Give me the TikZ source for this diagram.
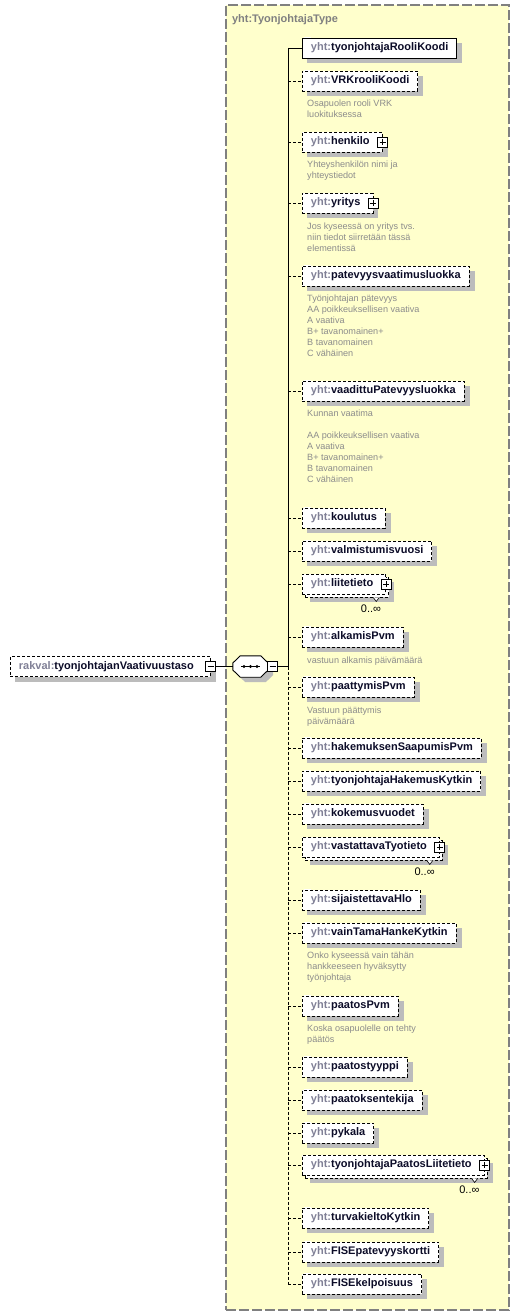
\documentclass[tikz,border=0pt]{standalone}
\usepackage{fontspec}
\setmainfont{Liberation Sans}
\usetikzlibrary{positioning,shadows}
\definecolor{typeyellow}{RGB}{255,255,204}
\definecolor{typeborder}{RGB}{128,128,128}
\definecolor{nsgrey}{RGB}{128,128,150}
\definecolor{namenavy}{RGB}{12,12,40}
\definecolor{docgrey}{RGB}{140,140,140}
\definecolor{boxshade}{RGB}{188,188,188}
\newcommand{\yht}[1]{\textcolor{nsgrey}{yht:}#1}
\newcommand{\octpath}{([shift={(0pt,3.5pt)}]seq.west) -- ([shift={(7.5pt,0pt)}]seq.north west) -- ([shift={(-7.5pt,0pt)}]seq.north east)
  -- ([shift={(0pt,3.5pt)}]seq.east) -- ([shift={(0pt,-3.5pt)}]seq.east) -- ([shift={(-7.5pt,0pt)}]seq.south east)
  -- ([shift={(7.5pt,0pt)}]seq.south west) -- ([shift={(0pt,-3.5pt)}]seq.west) -- cycle}
\pgfdeclarelayer{typelayer}
\pgfdeclarelayer{shadowlayer}
\pgfsetlayers{typelayer,shadowlayer,main}

\begin{document}
\begin{tikzpicture}[x=1pt, y=-1pt,
    element/.style={rectangle, draw, fill=white, anchor=west, minimum height=20pt, inner xsep=8.5pt, inner ysep=0pt,
      line width=0.9pt, text=namenavy, font=\fontsize{11}{13}\selectfont\bfseries},
    multi/.style={general shadow={shadow xshift=3pt, shadow yshift=-3pt, draw, fill=white, line width=0.9pt, dash pattern=on 3pt off 2pt}},
    optional/.style={dash pattern=on 3pt off 2pt},
    complex/.style={execute at end node={\hspace{4pt}}},
    simple/.style={append after command={\pgfextra{
      \fill[white] ([shift={(1.5pt,0.6pt)}]\tikzlastnode.north west) rectangle ([shift={(9pt,-5pt)}]\tikzlastnode.north west);
      \draw[solid, line width=0.6pt] ([shift={(2pt,-0.6pt)}]\tikzlastnode.north west) -- ++(6pt,0pt)
        ([shift={(2pt,-2.3pt)}]\tikzlastnode.north west) -- ++(6pt,0pt)
        ([shift={(2pt,-4pt)}]\tikzlastnode.north west) -- ++(6pt,0pt);}}},
    plusbox/.style={rectangle, draw, solid, fill=white, line width=0.8pt, minimum size=10pt, inner sep=0pt,
      path picture={\draw[line width=0.8pt] ([xshift=2pt]path picture bounding box.west) -- ([xshift=-2pt]path picture bounding box.east)
        ([yshift=-2pt]path picture bounding box.north) -- ([yshift=2pt]path picture bounding box.south);}},
    minusbox/.style={rectangle, draw, solid, fill=white, line width=0.8pt, minimum size=10pt, inner sep=0pt,
      path picture={\draw[line width=0.8pt] ([xshift=2pt]path picture bounding box.west) -- ([xshift=-2pt]path picture bounding box.east);}},
    doc/.style={font=\fontsize{9.1}{11}\selectfont, text=docgrey, align=left, inner sep=0pt},
    card/.style={font=\fontsize{11}{13}\selectfont, inner sep=0pt},
    link/.style={line width=0.9pt}]

  \useasboundingbox (0,0) rectangle (520,1316);

  % type container
  \begin{pgfonlayer}{typelayer}
    \node[rectangle, draw=typeborder, fill=typeyellow, line width=1.3pt, dash pattern=on 10pt off 3pt,
      minimum width=283pt, minimum height=1305pt, inner sep=0pt] (type) at (367.5,657.5) {};
  \end{pgfonlayer}
  \node[font=\fontsize{11}{13}\selectfont\bfseries, text=typeborder, inner sep=0pt, below right=9.5pt and 6.5pt of type.north west] (typename) {yht:TyonjohtajaType};

  % root element and sequence
  \node[element, optional] (root) at (10,666.5) {\textcolor{nsgrey}{rakval:}tyonjohtajanVaativuustaso\hspace*{8pt}};
  \node[minusbox] (rootminus) at (root.east) {};
  \node[minimum width=35pt, minimum height=21pt, inner sep=0pt] (seq) at (250.5,666.5) {};
  \draw[line width=0.9pt, fill=white] \octpath;
  \draw[line width=1pt] ([xshift=-9.5pt]seq.center) -- ([xshift=9.5pt]seq.center);
  \fill ([xshift=-6.5pt]seq.center) circle (1.7pt);
  \fill (seq.center) circle (1.7pt);
  \fill ([xshift=6.5pt]seq.center) circle (1.7pt);
  \node[minusbox] (seqminus) at ([xshift=4.5pt]seq.east) {};
  \coordinate (junc) at (288,666.5);

  % child elements
  \node[element, simple] (rooli) at (302,48) {\yht{tyonjohtajaRooliKoodi}};
  \node[element, optional, simple] (vrk) at (302,81) {\yht{VRKrooliKoodi}};
  \node[doc, below right=8pt and 5pt of vrk.south west] (vrkdoc) {Osapuolen rooli VRK\\luokituksessa};
  \node[element, optional, complex] (henkilo) at (302,142) {\yht{henkilo}};
  \node[plusbox] (henkiloplus) at (henkilo.east) {};
  \node[doc, below right=8pt and 5pt of henkilo.south west] (henkilodoc) {Yhteyshenkilön nimi ja\\yhteystiedot};
  \node[element, optional, complex] (yritys) at (302,203) {\yht{yritys}};
  \node[plusbox] (yritysplus) at (yritys.east) {};
  \node[doc, below right=9pt and 5pt of yritys.south west] (yritysdoc) {Jos kyseessä on yritys tvs.\\niin tiedot siirretään tässä\\elementissä};
  \node[element, optional, simple] (patevyys) at (302,276) {\yht{patevyysvaatimusluokka}};
  \node[doc, below right=8pt and 5pt of patevyys.south west] (patevyysdoc) {Työnjohtajan pätevyys\\AA poikkeuksellisen vaativa\\A vaativa\\B+ tavanomainen+\\B tavanomainen\\C vähäinen};
  \node[element, optional, simple] (vaadittu) at (302,391) {\yht{vaadittuPatevyysluokka}};
  \node[doc, below right=8pt and 5pt of vaadittu.south west] (vaadittudoc) {Kunnan vaatima\\[11pt]AA poikkeuksellisen vaativa\\A vaativa\\B+ tavanomainen+\\B tavanomainen\\C vähäinen};
  \node[element, optional, simple] (koulutus) at (302,518) {\yht{koulutus}};
  \node[element, optional, simple] (valmistumis) at (302,551) {\yht{valmistumisvuosi}};
  \node[element, optional, multi, complex] (liite) at (302,584) {\yht{liitetieto}};
  \node[plusbox] (liiteplus) at (liite.east) {};
  \draw[line width=0.6pt, fill=white] ([shift={(-13pt,-3pt)}]liite.south east) -- ([shift={(-10pt,-7pt)}]liite.south east) -- ([shift={(-7pt,-3pt)}]liite.south east);
  \node[card, below left=10.5pt and 5pt of liite.south east] (liitecard) {0..∞};
  \node[element, optional, simple] (alkamis) at (302,637) {\yht{alkamisPvm}};
  \node[doc, below right=9pt and 5pt of alkamis.south west] (alkamisdoc) {vastuun alkamis päivämäärä};
  \node[element, optional, simple] (paattymis) at (302,687) {\yht{paattymisPvm}};
  \node[doc, below right=9pt and 5pt of paattymis.south west] (paattymisdoc) {Vastuun päättymis\\päivämäärä};
  \node[element, optional, simple] (saapumis) at (302,748) {\yht{hakemuksenSaapumisPvm}};
  \node[element, optional, simple] (hakemuskytkin) at (302,781) {\yht{tyonjohtajaHakemusKytkin}};
  \node[element, optional, simple] (kokemus) at (302,814) {\yht{kokemusvuodet}};
  \node[element, optional, multi, complex] (vastattava) at (302,847) {\yht{vastattavaTyotieto}};
  \node[plusbox] (vastattavaplus) at (vastattava.east) {};
  \draw[line width=0.6pt, fill=white] ([shift={(-13pt,-3pt)}]vastattava.south east) -- ([shift={(-10pt,-7pt)}]vastattava.south east) -- ([shift={(-7pt,-3pt)}]vastattava.south east);
  \node[card, below left=10.5pt and 5pt of vastattava.south east] (vastattavacard) {0..∞};
  \node[element, optional, simple] (sijaistettava) at (302,900) {\yht{sijaistettavaHlo}};
  \node[element, optional, simple] (vaintama) at (302,933) {\yht{vainTamaHankeKytkin}};
  \node[doc, below right=8pt and 5pt of vaintama.south west] (vaintamadoc) {Onko kyseessä vain tähän\\hankkeeseen hyväksytty\\työnjohtaja};
  \node[element, optional, simple] (paatospvm) at (302,1006) {\yht{paatosPvm}};
  \node[doc, below right=8pt and 5pt of paatospvm.south west] (paatospvmdoc) {Koska osapuolelle on tehty\\päätös};
  \node[element, optional, simple] (paatostyyppi) at (302,1067) {\yht{paatostyyppi}};
  \node[element, optional, simple] (paatoksentekija) at (302,1100) {\yht{paatoksentekija}};
  \node[element, optional, simple] (pykala) at (302,1133) {\yht{pykala}};
  \node[element, optional, multi, complex] (paatosliite) at (302,1165) {\yht{tyonjohtajaPaatosLiitetieto}};
  \node[plusbox] (paatosliiteplus) at (paatosliite.east) {};
  \draw[line width=0.6pt, fill=white] ([shift={(-13pt,-3pt)}]paatosliite.south east) -- ([shift={(-10pt,-7pt)}]paatosliite.south east) -- ([shift={(-7pt,-3pt)}]paatosliite.south east);
  \node[card, below left=10.5pt and 5pt of paatosliite.south east] (paatosliitecard) {0..∞};
  \node[element, optional, simple] (turvakielto) at (302,1218) {\yht{turvakieltoKytkin}};
  \node[element, optional, simple] (fisekortti) at (302,1252) {\yht{FISEpatevyyskortti}};
  \node[element, optional, simple] (fisekelpo) at (302,1284) {\yht{FISEkelpoisuus}};

  % shadows
  \begin{pgfonlayer}{shadowlayer}
    \fill[boxshade, transform canvas={shift={(5pt,-5pt)}}] \octpath;
    \foreach \n in {root,rooli,vrk,henkilo,yritys,patevyys,vaadittu,koulutus,valmistumis,alkamis,paattymis,saapumis,
        hakemuskytkin,kokemus,sijaistettava,vaintama,paatospvm,paatostyyppi,paatoksentekija,pykala,turvakielto,fisekortti,fisekelpo}
      \fill[boxshade] ([shift={(5pt,-5pt)}]\n.south west) rectangle ([shift={(5pt,-5pt)}]\n.north east);
    \foreach \n in {liite,vastattava,paatosliite}
      \fill[boxshade] ([shift={(8pt,-8pt)}]\n.south west) rectangle ([shift={(8pt,-8pt)}]\n.north east);
  \end{pgfonlayer}

  % connectors
  \draw[link] (rootminus) -- (seqminus.west -| seq.west);
  \draw[link] (seqminus) -- (junc);
  \draw[link] (rooli.west -| junc) -- (junc);
  \draw[link, optional] (junc) -- (fisekelpo.west -| junc);
  \draw[link] (rooli.west -| junc) -- (rooli);
  \draw[link, optional] (vrk.west -| junc) -- (vrk);
  \draw[link, optional] (henkilo.west -| junc) -- (henkilo);
  \draw[link, optional] (yritys.west -| junc) -- (yritys);
  \draw[link, optional] (patevyys.west -| junc) -- (patevyys);
  \draw[link, optional] (vaadittu.west -| junc) -- (vaadittu);
  \draw[link, optional] (koulutus.west -| junc) -- (koulutus);
  \draw[link, optional] (valmistumis.west -| junc) -- (valmistumis);
  \draw[link, optional] (liite.west -| junc) -- (liite);
  \draw[link, optional] (alkamis.west -| junc) -- (alkamis);
  \draw[link, optional] (paattymis.west -| junc) -- (paattymis);
  \draw[link, optional] (saapumis.west -| junc) -- (saapumis);
  \draw[link, optional] (hakemuskytkin.west -| junc) -- (hakemuskytkin);
  \draw[link, optional] (kokemus.west -| junc) -- (kokemus);
  \draw[link, optional] (vastattava.west -| junc) -- (vastattava);
  \draw[link, optional] (sijaistettava.west -| junc) -- (sijaistettava);
  \draw[link, optional] (vaintama.west -| junc) -- (vaintama);
  \draw[link, optional] (paatospvm.west -| junc) -- (paatospvm);
  \draw[link, optional] (paatostyyppi.west -| junc) -- (paatostyyppi);
  \draw[link, optional] (paatoksentekija.west -| junc) -- (paatoksentekija);
  \draw[link, optional] (pykala.west -| junc) -- (pykala);
  \draw[link, optional] (paatosliite.west -| junc) -- (paatosliite);
  \draw[link, optional] (turvakielto.west -| junc) -- (turvakielto);
  \draw[link, optional] (fisekortti.west -| junc) -- (fisekortti);
  \draw[link, optional] (fisekelpo.west -| junc) -- (fisekelpo);
\end{tikzpicture}
\end{document}
